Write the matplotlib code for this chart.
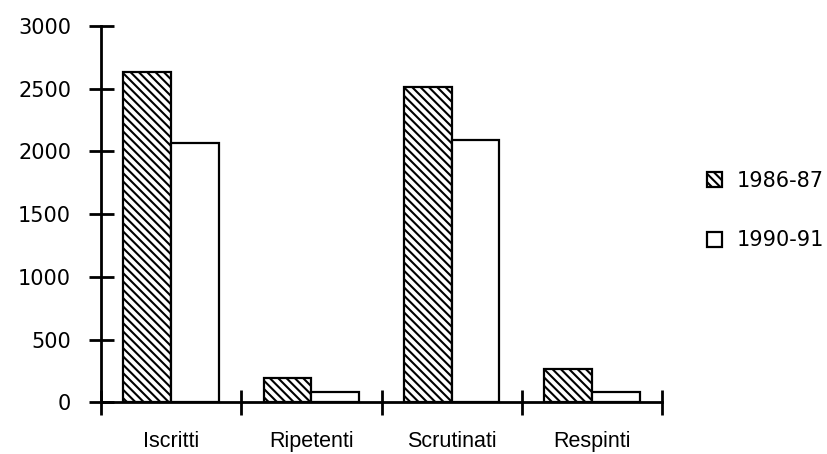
import numpy as np
import matplotlib.pyplot as plt

plt.rcParams['font.family'] = ['Liberation Sans', 'DejaVu Sans']
plt.rcParams['hatch.linewidth'] = 1.5
plt.rcParams['hatch.color'] = '#222222'

# Dati
categorie = ['Iscritti', 'Ripetenti', 'Scrutinati', 'Respinti']
anni = ['1986-87', '1990-91']
valori_1986 = [2635, 196, 2515, 263]
valori_1990 = [2065, 85, 2090, 85]

fig = plt.figure(figsize=(8.28, 4.54), dpi=100)
ax = fig.add_axes([0.122, 0.1139, 0.6775, 0.8288])

x = np.arange(len(categorie))
w = 0.34
ax.bar(x - w / 2, valori_1986, w, facecolor='white', edgecolor='black',
       hatch='\\\\\\\\', linewidth=1.6, label=anni[0])
ax.bar(x + w / 2, valori_1990, w, facecolor='white', edgecolor='black',
       linewidth=1.6, label=anni[1])

ax.set_xlim(-0.5, len(categorie) - 0.5)
ax.set_ylim(0, 3000)
ax.set_yticks(range(0, 3001, 500))

# tacche sull'asse x tra le categorie, etichette al centro
ax.set_xticks(np.arange(-0.5, len(categorie)))
ax.set_xticklabels([])
ax.set_xticks(x, minor=True)
ax.set_xticklabels(categorie, minor=True)
ax.tick_params(axis='x', which='minor', length=0, pad=21, labelsize=15.5)
ax.tick_params(axis='x', which='major', direction='inout', length=18, width=2)
ax.tick_params(axis='y', direction='inout', length=18, width=2, pad=12.5, labelsize=15)
for lab in ax.get_yticklabels():
    lab.set_fontfamily('DejaVu Sans')

for s in ['top', 'right']:
    ax.spines[s].set_visible(False)
for s in ['left', 'bottom']:
    ax.spines[s].set_linewidth(2)

fig.legend(loc='center left', bbox_to_anchor=(0.8315, 0.536), frameon=False,
           prop={'family': 'DejaVu Sans', 'size': 15},
           handlelength=0.72, handleheight=0.72,
           handletextpad=0.7, labelspacing=1.9)

fig.savefig('out.png', dpi=100)
